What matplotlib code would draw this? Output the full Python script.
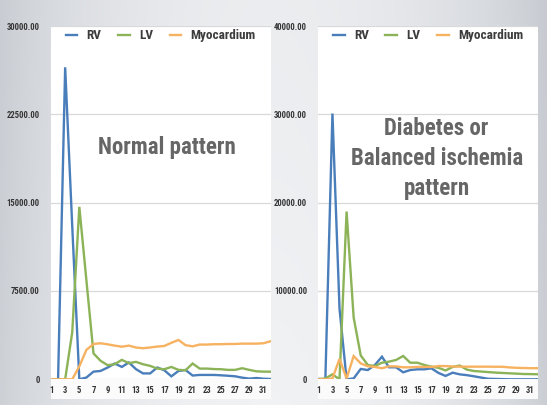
import numpy as np
import matplotlib
matplotlib.use("Agg")
import matplotlib.pyplot as plt
from matplotlib.patches import Rectangle
from matplotlib.colors import LinearSegmentedColormap

# ---------------- data ----------------
frames = list(range(1, 33))
tick_labels = [str(i) for i in range(1, 32, 2)]
series_names = ["RV", "LV", "Myocardium"]

normal_rv = [0, 0, 26500, 13000, 0, 150, 650, 710, 1000, 1340, 1050, 1430, 860, 500, 500, 1000,
             770, 250, 710, 790, 320, 370, 370, 370, 340, 300, 255, 140, 57, 110, 50, 30]
normal_lv = [0, 0, 0, 4000, 14650, 8400, 2200, 1570, 1200, 1280, 1650, 1370, 1480, 1280, 1140, 910,
             855, 1050, 800, 770, 1340, 910, 910, 870, 855, 800, 800, 940, 800, 680, 650, 650]
normal_myo = [0, 0, 0, 0, 1100, 2500, 3000, 3060, 2970, 2860, 2770, 2860, 2700, 2640, 2700, 2780,
              2830, 3100, 3340, 2900, 2800, 2950, 2950, 2980, 2980, 3000, 3000, 3030, 3030, 3030, 3060, 3230]

diab_rv = [50, 0, 30100, 8000, 0, 100, 1170, 1050, 1620, 2560, 1360, 1360, 790, 1050, 1130, 1130,
           1240, 720, 380, 750, 560, 470, 340, 200, 60, 40, 20, 0, 0, 0, 0, 0]
diab_lv = [0, 100, 560, 0, 19000, 7000, 2700, 1620, 1500, 1880, 2000, 2190, 2640, 1880, 1880, 1620,
           1430, 1300, 1000, 1400, 1560, 1100, 940, 880, 820, 760, 720, 680, 640, 600, 590, 570]
diab_myo = [0, 0, 100, 2300, 100, 2630, 1800, 1480, 1400, 1250, 1470, 1460, 1360, 1360, 1400, 1400,
            1400, 1500, 1500, 1450, 1430, 1430, 1430, 1430, 1430, 1420, 1420, 1350, 1300, 1280, 1260, 1260]

normal_ymax, normal_step = 30000, 7500
diab_ymax, diab_step = 40000, 10000
normal_title = "Normal pattern"
diab_title = "Diabetes or\nBalanced ischemia\npattern"

# ---------------- style ----------------
W, H = 547, 405
colors = ["#4a7ebb", "#8cb357", "#f6b260"]
FONT = ["Roboto Condensed", "Archivo Narrow", "DejaVu Sans"]
plt.rcParams["font.family"] = FONT

fig = plt.figure(figsize=(W / 100, H / 100), dpi=100)

# background gradient
bg = fig.add_axes([0, 0, 1, 1], zorder=-10)
bg.set_axis_off()
xs = np.linspace(0, 1, 300)
ys = np.linspace(0, 1, 200)
X, Y = np.meshgrid(xs, ys)
horiz = np.clip(0.6 + 0.4 * np.sin(np.pi * np.clip(X * 0.95 + 0.03, 0, 1)) ** 0.6, 0, 1)
val = horiz * (0.95 + 0.05 * Y)
cmap = LinearSegmentedColormap.from_list("bg", ["#bcc1c8", "#f1f2f4"])
bg.imshow(val, cmap=cmap, aspect="auto", extent=[0, 1, 0, 1], origin="upper", vmin=0.55, vmax=1.0)
bg.set_xlim(0, 1)
bg.set_ylim(0, 1)


def px_rect(x0, y0, x1, y1):
    return [x0 / W, 1 - y1 / H, (x1 - x0) / W, (y1 - y0) / H]


def make_panel(x0, x1, rv, lv, myo, ymax, ystep, title, title_xy):
    # white card under the axis labels
    fig.patches.append(Rectangle((x0 / W, 1 - 399 / H), (x1 - x0) / W, (399 - 379.3) / H,
                                 transform=fig.transFigure, facecolor="#fbfbfc",
                                 edgecolor="none", zorder=-5))
    ax = fig.add_axes(px_rect(x0, 26.1, x1, 379.3))
    ax.set_facecolor("white")
    for name, data, c in zip(series_names, [rv, lv, myo], colors):
        ax.plot(frames, data, color=c, lw=1.7, label=name, solid_joinstyle="miter", zorder=3)
    ax.set_xlim(1, 32)
    ax.set_ylim(0, ymax)
    yt = np.arange(0, ymax + 1, ystep)
    ax.set_yticks(yt)
    ax.set_yticklabels(["0" if v == 0 else f"{v:.2f}" for v in yt])
    ax.set_xticks(list(range(1, 32, 2)))
    ax.set_xticklabels(tick_labels)
    ax.tick_params(length=0, labelsize=6.2, colors="#353535")
    for lab in ax.get_xticklabels() + ax.get_yticklabels():
        lab.set_fontweight("bold")
    ax.tick_params(axis="y", pad=8)
    ax.tick_params(axis="x", pad=5)
    ax.grid(axis="y", color="#d9d9d9", lw=0.9, zorder=0)
    ax.set_axisbelow(True)
    for s in ax.spines.values():
        s.set_visible(False)
    leg = ax.legend(loc="upper center", bbox_to_anchor=(0.5, 1.025), ncol=3, frameon=False,
                    handlelength=0.9, handletextpad=0.7, columnspacing=1.25,
                    prop={"family": FONT, "weight": "bold", "size": 9.5})
    for t in leg.get_texts():
        t.set_color("#3c3c3c")
    ax.text(title_xy[0], title_xy[1], title, transform=ax.transAxes, ha="center", va="center",
            fontsize=16.5, fontweight="bold", color="#666666", linespacing=1.4, zorder=4)
    return ax


make_panel(51, 270.5, normal_rv, normal_lv, normal_myo, normal_ymax, normal_step,
           normal_title, (0.53, 0.655))
make_panel(318.3, 537.5, diab_rv, diab_lv, diab_myo, diab_ymax, diab_step,
           diab_title, (0.54, 0.625))

fig.savefig("out.png", dpi=100)
